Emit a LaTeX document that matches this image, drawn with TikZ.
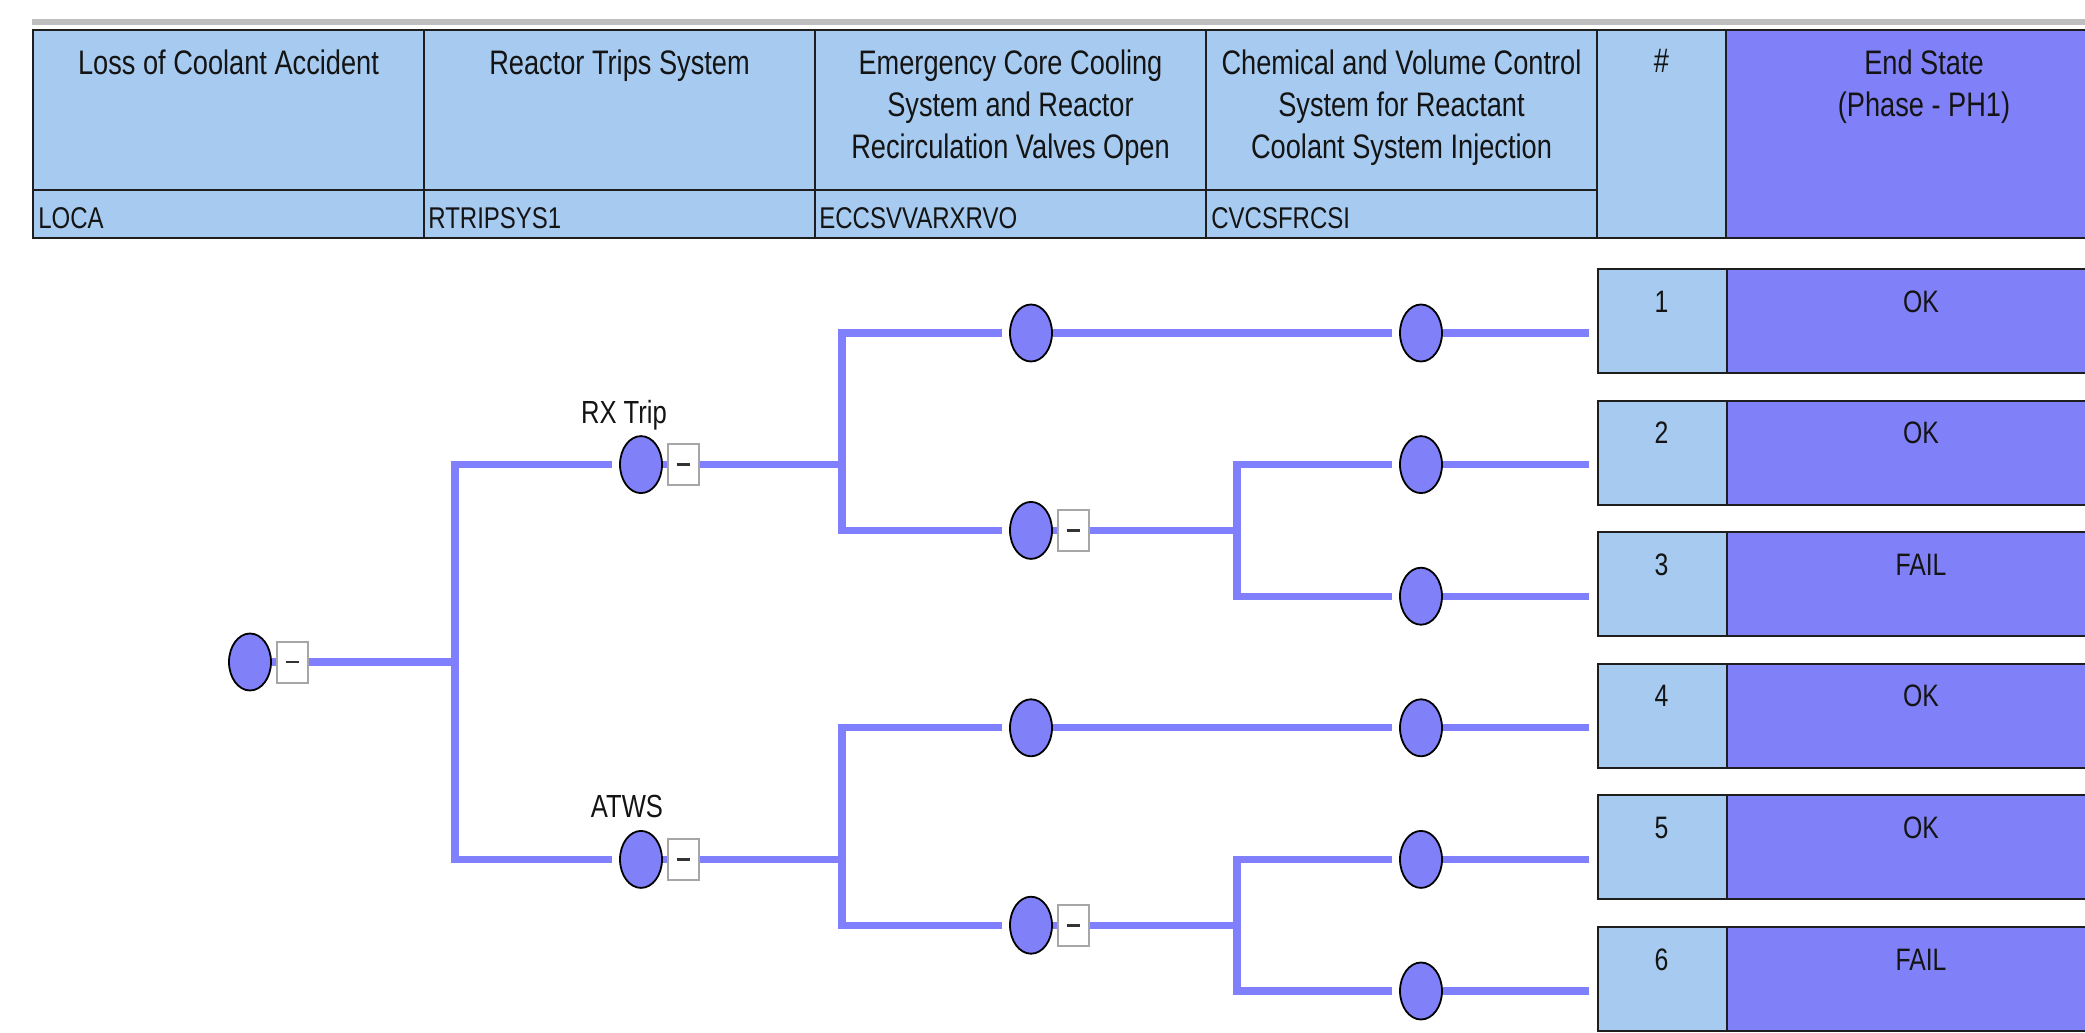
\documentclass[tikz,border=0pt]{standalone}
\usepackage{fontspec}
\setmainfont{Liberation Sans}[FakeStretch=0.8]
\usetikzlibrary{shapes.geometric}
\definecolor{hdr}{RGB}{166,202,240}
\definecolor{pur}{RGB}{128,128,248}
\definecolor{brc}{RGB}{128,128,255}
\definecolor{tbl}{RGB}{30,30,30}
\definecolor{txt}{RGB}{20,20,20}
\begin{document}
\begin{tikzpicture}[x=0.5pt,y=-0.5pt,
  ev/.style={ellipse, draw=black, line width=0.9pt, fill=pur, minimum width=21pt, minimum height=28.5pt, inner sep=0pt},
  minus/.style={rectangle, draw=black!35, line width=1pt, fill=white, minimum width=15.5pt, minimum height=20.5pt, inner sep=0pt},
  brn/.style={draw=brc, line width=3.6pt},
  gapin/.style={shorten >=3.5pt},
  cellline/.style={draw=tbl, line width=1pt},
  numbox/.style={rectangle, draw=tbl, line width=1pt, fill=hdr, minimum width=64.5pt, minimum height=52pt, inner sep=0pt},
  endbox/.style={rectangle, draw=tbl, line width=1pt, fill=pur, minimum width=198pt, minimum height=52pt, inner sep=0pt},
  htext/.style={anchor=north, align=center, inner sep=0pt, text=txt, font=\fontsize{17pt}{21pt}\selectfont},
  idtext/.style={anchor=base west, inner sep=0pt, text=txt, font=\fontsize{15pt}{18pt}\selectfont},
  etext/.style={anchor=base, inner sep=0pt, text=txt, font=\fontsize{15.5pt}{18pt}\selectfont},
  lab/.style={anchor=base, inner sep=0pt, text=txt, font=\fontsize{16pt}{18pt}\selectfont}]
\useasboundingbox (0,0) rectangle (2085,1033);
\clip (0,0) rectangle (2085,1033);
\fill[white] (0,0) rectangle (2085,1033);
% top gray rule
\draw[line width=3pt, draw=black!25] (32,21.5) -- (2090,21.5);
% header table
\filldraw[fill=hdr, cellline] (33,30) rectangle (1726,238);
\filldraw[fill=pur, cellline] (1726,30) rectangle (2122,238);
\draw[cellline] (33,190) -- (1597,190);
\foreach \xx in {424,815,1206,1597} { \draw[cellline] (\xx,30) -- (\xx,238); }
\node[htext] (t1) at (228.5,49) {Loss of Coolant Accident};
\node[htext] (t2) at (619.5,49) {Reactor Trips System};
\node[htext] (t3) at (1010.5,49) {Emergency Core Cooling\\System and Reactor\\Recirculation Valves Open};
\node[htext] (t4) at (1401.5,49) {Chemical and Volume Control\\System for Reactant\\Coolant System Injection};
\node[htext] (t5) at (1661.5,49) {\#};
\node[htext] (t6) at (1924,49) {End State\\(Phase - PH1)};
\node[idtext] (i1) at (38,228) {LOCA};
\node[idtext] (i2) at (428,228) {RTRIPSYS1};
\node[idtext] (i3) at (819,228) {ECCSVVARXRVO};
\node[idtext] (i4) at (1211,228) {CVCSFRCSI};
% end state boxes
\foreach \i/\r in {1/OK,2/OK,3/FAIL,4/OK,5/OK,6/FAIL}{
  \pgfmathsetmacro\t{268+(\i-1)*131.6}
  \node[numbox, anchor=north west] (nb\i) at (1597,\t) {};
  \node[endbox, anchor=north west] (es\i) at (1726,\t) {};
  \node[etext] (nt\i) at (1661.5,\t+44) {\i};
  \node[etext] (rt\i) at (1921,\t+44) {\r};
}
% event nodes
\node[ev] (c0) at (250,662) {};
\node[minus] (m0) at (292,662) {\color{black!80}\rule{6.5pt}{1.3pt}};
\node[ev] (rx) at (641,464.6) {};
\node[minus] (mrx) at (683,464.6) {\color{black!80}\rule{6.5pt}{1.3pt}};
\node[ev] (at) at (641,859.4) {};
\node[minus] (mat) at (683,859.4) {\color{black!80}\rule{6.5pt}{1.3pt}};
\node[ev] (e1) at (1031,333) {};
\node[ev] (e2) at (1031,530.4) {};
\node[minus] (me2) at (1073,530.4) {\color{black!80}\rule{6.5pt}{1.3pt}};
\node[ev] (e3) at (1031,727.8) {};
\node[ev] (e4) at (1031,925.2) {};
\node[minus] (me4) at (1073,925.2) {\color{black!80}\rule{6.5pt}{1.3pt}};
\node[ev] (ch1) at (1421,333) {};
\node[ev] (ch2) at (1421,464.6) {};
\node[ev] (ch3) at (1421,596.2) {};
\node[ev] (ch4) at (1421,727.8) {};
\node[ev] (ch5) at (1421,859.4) {};
\node[ev] (ch6) at (1421,991) {};
\node[lab] (lrx) at (624,423) {RX Trip};
\node[lab] (lat) at (627,817) {ATWS};
% branch points
\coordinate (b0) at (455,662);
\coordinate (b1) at (842,464.6);
\coordinate (b2) at (1237,530.4);
\coordinate (b3) at (842,859.4);
\coordinate (b4) at (1237,925.2);
% connectors
\draw[brn] (c0.east) -- (m0.west);
\draw[brn] (m0.east) -- (b0);
\draw[brn, gapin] (b0) |- (rx.west);
\draw[brn, gapin] (b0) |- (at.west);
\draw[brn] (rx.east) -- (mrx.west);
\draw[brn] (mrx.east) -- (b1);
\draw[brn, gapin] (b1) |- (e1.west);
\draw[brn, gapin] (b1) |- (e2.west);
\draw[brn, gapin] (e1.east) -- (ch1.west);
\draw[brn] (e2.east) -- (me2.west);
\draw[brn] (me2.east) -- (b2);
\draw[brn, gapin] (b2) |- (ch2.west);
\draw[brn, gapin] (b2) |- (ch3.west);
\draw[brn] (at.east) -- (mat.west);
\draw[brn] (mat.east) -- (b3);
\draw[brn, gapin] (b3) |- (e3.west);
\draw[brn, gapin] (b3) |- (e4.west);
\draw[brn, gapin] (e3.east) -- (ch4.west);
\draw[brn] (e4.east) -- (me4.west);
\draw[brn] (me4.east) -- (b4);
\draw[brn, gapin] (b4) |- (ch5.west);
\draw[brn, gapin] (b4) |- (ch6.west);
\foreach \i in {1,...,6}{ \draw[brn, shorten >=4pt] (ch\i.east) -- (ch\i.east -| nb\i.west); }
\end{tikzpicture}
\end{document}
